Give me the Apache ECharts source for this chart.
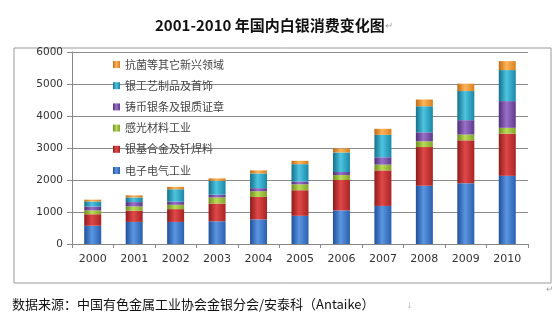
<!DOCTYPE html>
<html>
<head>
<meta charset="utf-8">
<script src="https://cdn.jsdelivr.net/npm/echarts@6/dist/echarts.min.js"></script>
<style>html,body{margin:0;padding:0;background:#fff;}#c{width:560px;height:325px;}</style>
</head>
<body>
<div id="c"></div>
<script>
var years = ['2000','2001','2002','2003','2004','2005','2006','2007','2008','2009','2010'];
var seriesNames = ['电子电气工业','银基合金及钎焊料','感光材料工业','铸币银条及银质证章','银工艺制品及首饰','抗菌等其它新兴领域'];
var electronics = [570, 690, 690, 710, 770, 880, 1050, 1190, 1820, 1900, 2130];
var alloys      = [360, 350, 400, 555, 700, 800, 950, 1110, 1210, 1340, 1320];
var photo       = [120, 135, 135, 190, 180, 185, 155, 180, 180, 180, 180];
var coins       = [120, 135, 100, 85, 95, 90, 95, 230, 280, 450, 835];
var jewelry     = [160, 145, 385, 435, 460, 540, 610, 700, 815, 910, 970];
var others      = [55, 65, 75, 75, 95, 105, 125, 190, 210, 230, 280];
var yTicks = [0, 1000, 2000, 3000, 4000, 5000, 6000];

var dataSets = [electronics, alloys, photo, coins, jewelry, others];
var colors = [
  ['#1f4f9a','#5b96e0','#2a5fb0'],
  ['#8e1a1a','#e04848','#a82424'],
  ['#6e8c1e','#b8dc56','#82a42a'],
  ['#4e2e78','#9a70c8','#5e3a8c'],
  ['#13708a','#4ec4e0','#1a88a6'],
  ['#c06a14','#ffb45a','#d8801e']
];
function grad(c){
  return new echarts.graphic.LinearGradient(0,0,1,0,[
    {offset:0,color:c[0]},{offset:0.45,color:c[1]},{offset:1,color:c[2]}
  ]);
}
var series = dataSets.map(function(d,i){
  return {
    name: seriesNames[i], type:'bar', stack:'total', data:d,
    barWidth: 17,
    itemStyle:{color:grad(colors[i])}
  };
});
var chart = echarts.init(document.getElementById('c'));
chart.setOption({
  animation:false,
  color: colors.map(function(c){return c[1];}),
  title:{
    text:'2001-2010 年国内白银消费变化图{a|↵}',
    left:150, top:13,
    textStyle:{fontSize:15,fontWeight:'bold',color:'#111',fontFamily:'Noto Sans CJK SC',
      rich:{a:{fontSize:10,color:'#aaa',fontWeight:'normal'}}}
  },
  legend:{
    data: seriesNames.slice().reverse(),
    orient:'vertical', left:108, top:54, itemGap:10.2,
    itemWidth:7, itemHeight:7, icon:'rect',
    textStyle:{fontSize:11,color:'#444',fontFamily:'Noto Sans CJK SC'}
  },
  grid:{left:72, right:32, top:52, bottom:81, containLabel:false},
  xAxis:{
    type:'category', data:years,
    axisLine:{lineStyle:{color:'#888'}},
    axisTick:{show:true, length:4, lineStyle:{color:'#888'}},
    axisLabel:{color:'#333', fontSize:11, margin:10, fontFamily:'DejaVu Sans'}
  },
  yAxis:{
    type:'value', min:0, max:6000, interval:1000,
    axisLine:{show:true, lineStyle:{color:'#888'}},
    axisTick:{show:true, inside:false, length:5, lineStyle:{color:'#888'}},
    axisLabel:{color:'#333', fontSize:10.5, margin:9, fontFamily:'DejaVu Sans',
      formatter:function(v){return yTicks.indexOf(v)>=0 ? String(v) : '';}},
    splitLine:{lineStyle:{color:'#8a8a8a'}}
  },
  graphic:[
    {type:'rect', shape:{x:14,y:48,width:537,height:235}, style:{fill:'none',stroke:'#9a9a9a',lineWidth:1}, z:-1},
    {type:'text', left:12, top:298, style:{text:'数据来源：中国有色金属工业协会金银分会/安泰科（Antaike）', fontSize:13, fill:'#111', fontFamily:'Noto Sans CJK SC'}},
    {type:'text', left:407, top:300, style:{text:'↓', fontSize:10, fill:'#999'}},
    {type:'text', left:546, top:285, style:{text:'↵', fontSize:9, fill:'#aaa'}}
  ],
  series: series
});
</script>
</body>
</html>
